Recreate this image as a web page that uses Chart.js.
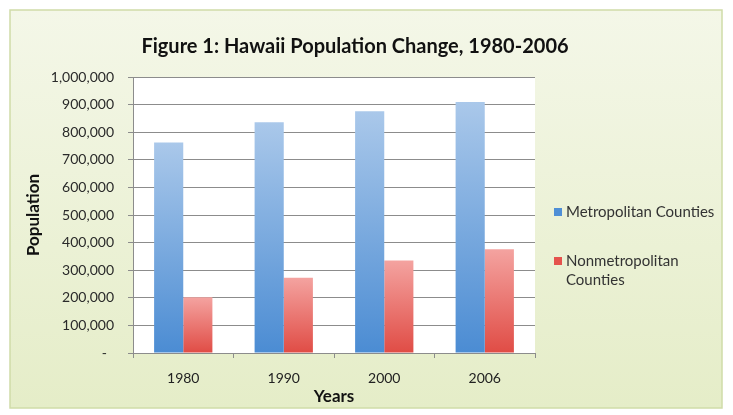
<!DOCTYPE html>
<html lang="en">
  <head>
    <meta charset="UTF-8" />
    <title>Hawaii Population Change, 1980-2006</title>
    <style>
      body {
        margin: 0;
        padding: 0;
        background: #fff;
      }
      #wrap {
        width: 733px;
        height: 415px;
      }
    </style>
  </head>
  <body>
    <div id="wrap"><canvas id="chart" width="733" height="415"></canvas></div>
    <script src="https://cdn.jsdelivr.net/npm/chart.js"></script>
    <script>
      const years = ["1980", "1990", "2000", "2006"];
      const metroCounts = [762565, 836231, 876156, 909863];
      const nonmetroCounts = [202126, 272998, 335381, 375650];
      const seriesNames = ["Metropolitan Counties", ["Nonmetropolitan", "Counties"]];
      const chartTitle = "Figure 1: Hawaii Population Change, 1980-2006";
      const yMax = 1000000;
      const yStep = 100000;

      const FONT = "Lato, 'Open Sans', sans-serif";

      // gradient per bar, light at the top and deeper at the base
      function barGradient(ctx, light, dark) {
        const chart = ctx.chart;
        if (!chart.chartArea || !chart.scales.y) return dark;
        const top = chart.scales.y.getPixelForValue(ctx.raw);
        const base = chart.scales.y.getPixelForValue(0);
        if (!isFinite(top) || top === base) return dark;
        const g = chart.ctx.createLinearGradient(0, top, 0, base);
        g.addColorStop(0, light);
        g.addColorStop(1, dark);
        return g;
      }

      const frame = {
        id: "frame",
        beforeDraw(chart) {
          const c = chart.ctx;
          const a = chart.chartArea;
          c.save();
          c.fillStyle = "#ffffff";
          c.fillRect(0, 0, chart.width, chart.height);
          const g = c.createLinearGradient(0, 10, 0, 408);
          g.addColorStop(0, "#f4f7e8");
          g.addColorStop(1, "#e5edc8");
          c.fillStyle = g;
          c.fillRect(10, 10, 712, 398);
          c.strokeStyle = "#cfdca8";
          c.lineWidth = 1.5;
          c.strokeRect(10, 10, 712, 398);
          c.fillStyle = "#ffffff";
          c.fillRect(a.left, a.top, a.right - a.left, a.bottom - a.top);
          c.restore();
        },
        afterDraw(chart) {
          const c = chart.ctx;
          c.save();
          // title
          c.font = "bold 20px " + FONT;
          c.fillStyle = "#111111";
          c.textAlign = "center";
          c.textBaseline = "middle";
          c.fillText(chartTitle, 355, 47);
          // legend
          c.textAlign = "left";
          c.font = "15px " + FONT;
          const ys = [212, 261];
          const cols = ["#4f8fd6", "#e5534d"];
          seriesNames.forEach((name, i) => {
            c.fillStyle = cols[i];
            c.fillRect(554, ys[i] - 4, 8, 8);
            c.fillStyle = "#333333";
            const lines = Array.isArray(name) ? name : [name];
            lines.forEach((ln, j) => c.fillText(ln, 566, ys[i] + j * 19));
          });
          c.restore();
        },
      };

      new Chart(document.getElementById("chart"), {
        type: "bar",
        data: {
          labels: years,
          datasets: [
            {
              label: "Metropolitan Counties",
              data: metroCounts,
              backgroundColor: (ctx) => barGradient(ctx, "#aac8ea", "#4b8cd3"),
            },
            {
              label: "Nonmetropolitan Counties",
              data: nonmetroCounts,
              backgroundColor: (ctx) => barGradient(ctx, "#f4a3a0", "#e04c45"),
            },
          ],
        },
        options: {
          responsive: false,
          animation: false,
          layout: { padding: { left: 23, right: 198, top: 77, bottom: 8 } },
          plugins: {
            legend: { display: false },
            tooltip: { enabled: false },
            title: { display: false },
          },
          datasets: {
            bar: { categoryPercentage: 0.58, barPercentage: 1.0 },
          },
          scales: {
            x: {
              grid: {
                offset: true,
                drawOnChartArea: false,
                drawTicks: true,
                tickLength: 5,
                color: "#8c8c8c",
              },
              border: { color: "#8c8c8c" },
              ticks: {
                color: "#222222",
                font: { family: FONT, size: 14 },
                padding: 12,
              },
              title: {
                display: true,
                text: "Years",
                color: "#111111",
                font: { family: FONT, size: 17, weight: "bold" },
                padding: { top: 0, bottom: 0 },
              },
              afterFit(scale) {
                scale.height = 54;
              },
            },
            y: {
              min: 0,
              max: yMax,
              ticks: {
                stepSize: yStep,
                color: "#2a2a2a",
                font: { family: FONT, size: 14 },
                padding: 14,
                // accounting style: zero shows as a dash, set in a little
                callback: (v) => (v === 0 ? "-\u2002" : v.toLocaleString("en-US")),
              },
              grid: { color: "#8c8c8c", tickLength: 5 },
              border: { color: "#8c8c8c" },
              title: {
                display: true,
                text: "Population",
                color: "#111111",
                font: { family: FONT, size: 17, weight: "bold" },
                padding: { top: 0, bottom: 0 },
              },
              afterFit(scale) {
                scale.width = 110;
              },
            },
          },
        },
        plugins: [frame],
      });
    </script>
  </body>
</html>
